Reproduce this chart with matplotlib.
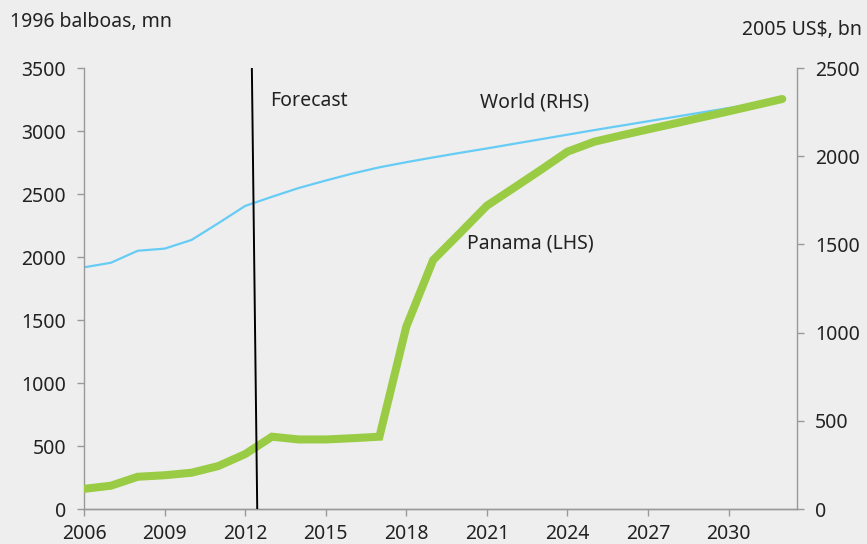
import matplotlib
matplotlib.use("Agg")
from matplotlib import pyplot as plt

plt.rcParams['font.family'] = ['Noto Sans', 'DejaVu Sans']

years = list(range(2006, 2033))
panama = [160, 185, 256, 268, 288, 341, 436, 574, 552, 552, 562, 574, 1447, 1976,
          2190, 2407, 2548, 2690, 2836, 2915, 2965, 3013, 3060, 3108, 3156, 3205, 3254]
world = [1370, 1396, 1464, 1476, 1525, 1620, 1718, 1770, 1820, 1862, 1902, 1937, 1966,
         1993, 2019, 2044, 2070, 2096, 2122, 2148, 2173, 2198, 2223, 2248, 2273, 2298, 2323]
forecast_x = [2012.25, 2012.45]

bg = '#eeeeee'
grey = '#999999'
txt = '#222222'

fig = plt.figure(figsize=(8.67, 5.44), dpi=100, facecolor=bg)
ax = fig.add_axes([0.0969, 0.0643, 0.8224, 0.8107], facecolor=bg)
ax2 = ax.twinx()

ax2.plot(years, world, color='#66ccf5', lw=1.6, solid_capstyle='round', zorder=2)
ax.plot(years, panama, color='#99cc44', lw=5.8, solid_capstyle='round',
        solid_joinstyle='miter', zorder=3)
ax.set_zorder(ax2.get_zorder() + 1)
ax.patch.set_visible(False)
ax.plot(forecast_x, [3500, 0], color='black', lw=1.4, zorder=4)

ax.set_xlim(2006, 2032.55)
ax.set_ylim(0, 3500)
ax2.set_ylim(0, 2500)
ax.set_xticks(range(2006, 2031, 3))
ax.set_yticks(range(0, 3501, 500))
ax2.set_yticks(range(0, 2501, 500))

for a in (ax, ax2):
    for s in a.spines.values():
        s.set_color(grey)
        s.set_linewidth(1.0)
    a.spines['top'].set_visible(False)
    a.tick_params(colors=grey, labelcolor=txt, labelsize=14, length=5, width=1, pad=8)
ax2.spines['left'].set_visible(False)
ax.spines['right'].set_visible(False)
ax.tick_params(axis='x', pad=6)

ax.text(2012.93, 3238, 'Forecast', fontsize=14, color=txt, va='center')
ax.text(2020.75, 3230, 'World (RHS)', fontsize=14, color=txt, va='center')
ax.text(2020.26, 2111, 'Panama (LHS)', fontsize=14, color=txt, va='center')

fig.text(10 / 867, 1 - 22 / 544, '1996 balboas, mn', fontsize=14, color=txt, va='center')
fig.text(862 / 867, 1 - 30 / 544, '2005 US\\$, bn', fontsize=14, color=txt,
         va='center', ha='right')

fig.savefig('out.png', dpi=100, facecolor=bg)
